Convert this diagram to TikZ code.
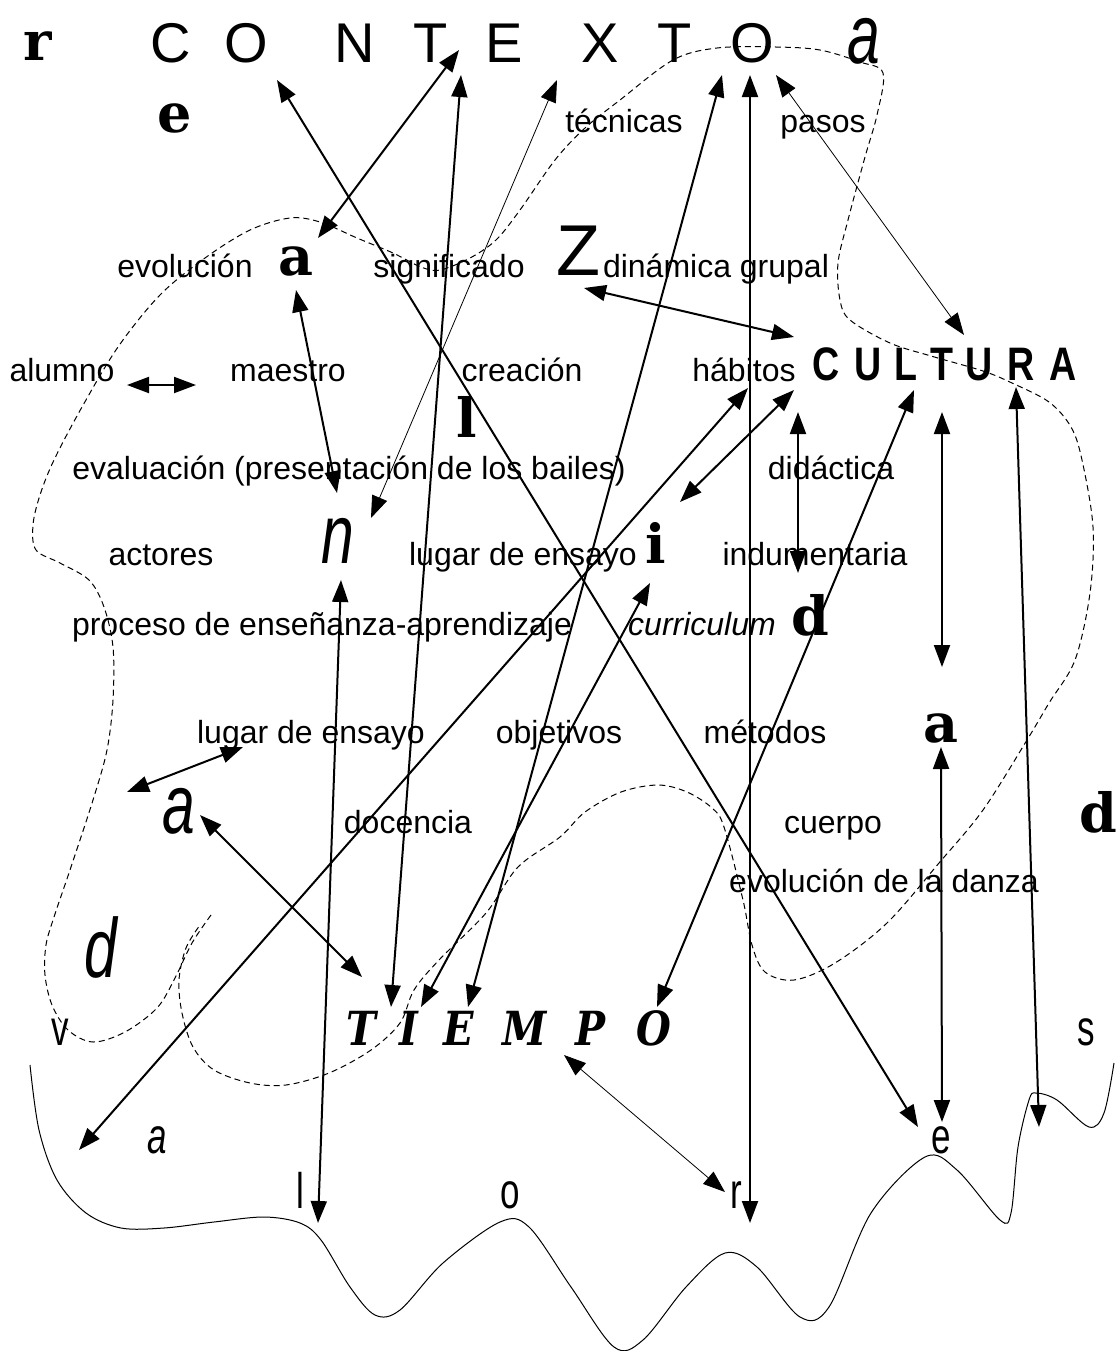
\documentclass[tikz,border=0pt]{standalone}
\usepackage{fontspec}
\setmainfont{Liberation Sans}
\newfontfamily\bserif{DejaVu Serif}
\newfontfamily\thinsans[FakeStretch=0.7]{Liberation Sans}
\newfontfamily\narsans[FakeStretch=0.8]{Liberation Sans}
\newfontfamily\tiempofont[FakeStretch=0.85]{DejaVu Serif}
\usetikzlibrary{arrows.meta}
\tikzset{
  txt/.style={inner sep=0pt, anchor=base},
  lbl/.style={txt, font=\fontsize{16}{19}\selectfont},
  bigl/.style={txt, font=\bserif\bfseries\fontsize{27}{30}\selectfont},
  ctx/.style={txt, font=\fontsize{28}{32}\selectfont},
  dz/.style={txt, font=\thinsans\itshape\fontsize{42}{48}\selectfont},
  zz/.style={txt, font=\fontsize{36}{40}\selectfont},
  val/.style={txt, font=\thinsans\fontsize{25}{28}\selectfont},
  cul/.style={txt, font=\narsans\bfseries\fontsize{23.5}{26}\selectfont},
  tmp/.style={txt, font=\tiempofont\bfseries\itshape\fontsize{23.5}{26}\selectfont},
  arr/.style={<->, >={Triangle[length=11pt,width=8pt]}, line width=1pt},
  thinarr/.style={<->, >={Triangle[length=11pt,width=8pt]}, line width=0.4pt},
  dsh/.style={dash pattern=on 3pt off 2pt, line width=0.5pt},
  wave/.style={line width=0.5pt}
}
\begin{document}
\begin{tikzpicture}[x=0.5pt,y=-0.5pt]
\useasboundingbox (0,0) rectangle (1116,1351);
% ---- dashed region
\draw[dsh] plot[smooth, tension=0.55] coordinates {(211,915) (192,943) (175,978) (157,1008) (125,1032) (93,1042) (68,1030) (52,1005) (45,975) (46,945) (54,917) (71,867) (93,800) (107,750) (113,700) (113,647) (104,607) (89,580) (60,563) (36,550) (33,525) (40,495) (54,460) (82,407) (118,347) (160,295) (205,258) (250,230) (290,218) (320,222) (357,238) (393,253) (421,267) (440,270) (470,258) (496,240) (520,210) (555,160) (585,128) (620,100) (673,60) (717,48) (776,47) (820,50) (860,62) (883,73) (877,115) (865,157) (848,220) (838,263) (840,300) (850,320) (890,343) (931,356) (983,371) (1012,383) (1049,402) (1071,427) (1082,460) (1093,527) (1090,593) (1075,660) (1049,703) (1027,740) (983,810) (939,863) (887,923) (835,963) (794,980) (765,972) (752,945) (743,900) (724,827) (712,808) (687,792) (658,785) (621,792) (585,812) (560,837) (518,867) (486,913) (439,960) (414,990) (400,1023) (371,1050) (329,1073) (286,1085) (250,1083) (214,1070) (193,1047) (182,1013) (179,980) (186,948) (200,925)};
% ---- wavy bottom line
\draw[wave] plot[smooth, tension=0.55] coordinates {(30,1065) (39,1130) (57,1180) (86,1213) (121,1228) (164,1228) (214,1222) (264,1217) (300,1223) (321,1240) (350,1287) (375,1315) (400,1310) (443,1263) (500,1222) (529,1227) (571,1287) (614,1347) (643,1340) (686,1287) (725,1253) (757,1267) (800,1317) (829,1307) (871,1213) (925,1157) (957,1170) (1000,1220) (1011,1213) (1018,1147) (1029,1100) (1036,1093) (1057,1100) (1089,1127) (1104,1113) (1114,1063)};
% ---- texts
\node[bigl] (r1) at (38,60) {r};
\node[ctx] (c1) at (171,62) {C};
\node[ctx] (c2) at (246,62) {O};
\node[ctx] (c3) at (355,62) {N};
\node[ctx] (c4) at (431,62) {T};
\node[ctx] (c5) at (504,62) {E};
\node[ctx] (c6) at (600,62) {X};
\node[ctx] (c7) at (675,62) {T};
\node[ctx] (c8) at (752,62) {O};
\node[dz] (za1) at (864,63) {a};
\node[bigl] (e1) at (175,132) {e};
\node[lbl] (tecnicas) at (624,132) {técnicas};
\node[lbl] (pasos) at (823,132) {pasos};
\node[lbl] (evolucion) at (185,277) {evolución};
\node[bigl] (a1) at (296,275) {a};
\node[lbl] (significado) at (449,277) {significado};
\node[zz] (zz1) at (578,275) {Z};
\node[lbl] (dinamica) at (716,277) {dinámica grupal};
\node[lbl] (alumno) at (62,381) {alumno};
\node[lbl] (maestro) at (288,381) {maestro};
\node[lbl] (creacion) at (522,381) {creación};
\node[lbl] (habitos) at (744,381) {hábitos};
\node[cul] (u1) at (826,380) {C};
\node[cul] (u2) at (868,380) {U};
\node[cul] (u3) at (906,380) {L};
\node[cul] (u4) at (942,380) {T};
\node[cul] (u5) at (979,380) {U};
\node[cul] (u6) at (1021,380) {R};
\node[cul] (u7) at (1063,380) {A};
\node[bigl] (l1) at (467,437) {l};
\node[lbl] (evaluacion) at (349,479) {evaluación (presentación de los bailes)};
\node[lbl] (didactica) at (831,479) {didáctica};
\node[lbl] (actores) at (161,565) {actores};
\node[dz] (zn) at (338,563) {n};
\node[lbl] (lugar1) at (523,565) {lugar de ensayo};
\node[bigl] (i1) at (656,563) {i};
\node[lbl] (indumentaria) at (815,565) {indumentaria};
\node[lbl] (proceso) at (322,635) {proceso de enseñanza-aprendizaje};
\node[lbl, font=\fontsize{16}{19}\selectfont\itshape] (curriculum) at (702,635) {curriculum};
\node[bigl] (d1) at (810,635) {d};
\node[lbl] (lugar2) at (311,743) {lugar de ensayo};
\node[lbl] (objetivos) at (559,743) {objetivos};
\node[lbl] (metodos) at (765,743) {métodos};
\node[bigl] (a2) at (941,742) {a};
\node[dz] (za2) at (179,833) {a};
\node[lbl] (docencia) at (408,833) {docencia};
\node[lbl] (cuerpo) at (833,833) {cuerpo};
\node[bigl] (d2) at (1098,832) {d};
\node[lbl] (evoldanza) at (884,892) {evolución de la danza};
\node[dz] (zd) at (101,977) {d};
\node[val] (v1) at (60,1045) {v};
\node[tmp] (t1) at (361,1045) {T};
\node[tmp] (t2) at (409,1045) {I};
\node[tmp] (t3) at (459,1045) {E};
\node[tmp] (t4) at (525,1045) {M};
\node[tmp] (t5) at (591,1045) {P};
\node[tmp] (t6) at (654,1045) {O};
\node[val] (s1) at (1086,1045) {s};
\node[val, font=\thinsans\itshape\fontsize{25}{28}\selectfont] (va) at (157,1153) {a};
\node[val] (ve) at (941,1153) {e};
\node[val] (vl) at (300,1208) {l};
\node[val] (vo) at (510,1208) {o};
\node[val] (vr) at (736,1208) {r};
% ---- connector end points
\coordinate (p1a) at (127,385); \coordinate (p1b) at (196,385);
\coordinate (p2a) at (459,50);  \coordinate (p2b) at (318,238);
\coordinate (p3a) at (277,80);  \coordinate (p3b) at (918,1127);
\coordinate (p4a) at (461,75);  \coordinate (p4b) at (391,1007);
\coordinate (p5a) at (557,80);  \coordinate (p5b) at (371,518);
\coordinate (p6a) at (722,75);  \coordinate (p6b) at (468,1007);
\coordinate (p7a) at (750,75);  \coordinate (p7b) at (750,1223);
\coordinate (p8a) at (776,75);  \coordinate (p8b) at (964,335);
\coordinate (p9a) at (584,288); \coordinate (p9b) at (794,337);
\coordinate (p10a) at (748,388); \coordinate (p10b) at (79,1150);
\coordinate (p11a) at (794,390); \coordinate (p11b) at (680,502);
\coordinate (p12a) at (798,412); \coordinate (p12b) at (798,573);
\coordinate (p13a) at (650,583); \coordinate (p13b) at (421,1007);
\coordinate (p14a) at (914,390); \coordinate (p14b) at (657,1007);
\coordinate (p15a) at (942,412); \coordinate (p15b) at (942,667);
\coordinate (p16a) at (941,747); \coordinate (p16b) at (942,1122);
\coordinate (p17a) at (1016,387); \coordinate (p17b) at (1039,1127);
\coordinate (p18a) at (296,290); \coordinate (p18b) at (337,493);
\coordinate (p19a) at (341,580); \coordinate (p19b) at (318,1223);
\coordinate (p20a) at (243,747); \coordinate (p20b) at (127,792);
\coordinate (p21a) at (200,815); \coordinate (p21b) at (362,977);
\coordinate (p22a) at (564,1055); \coordinate (p22b) at (725,1192);
% ---- connectors
\draw[arr] (p1a) -- (p1b);
\draw[arr] (p2a) -- (p2b);
\draw[arr] (p3a) -- (p3b);
\draw[arr] (p4a) -- (p4b);
\draw[thinarr] (p5a) -- (p5b);
\draw[arr] (p6a) -- (p6b);
\draw[arr] (p7a) -- (p7b);
\draw[thinarr] (p8a) -- (p8b);
\draw[arr] (p9a) -- (p9b);
\draw[arr] (p10a) -- (p10b);
\draw[arr] (p11a) -- (p11b);
\draw[arr] (p12a) -- (p12b);
\draw[arr] (p13a) -- (p13b);
\draw[arr] (p14a) -- (p14b);
\draw[arr] (p15a) -- (p15b);
\draw[arr] (p16a) -- (p16b);
\draw[arr] (p17a) -- (p17b);
\draw[arr] (p18a) -- (p18b);
\draw[arr] (p19a) -- (p19b);
\draw[arr] (p20a) -- (p20b);
\draw[arr] (p21a) -- (p21b);
\draw[thinarr] (p22a) -- (p22b);
\end{tikzpicture}
\end{document}
